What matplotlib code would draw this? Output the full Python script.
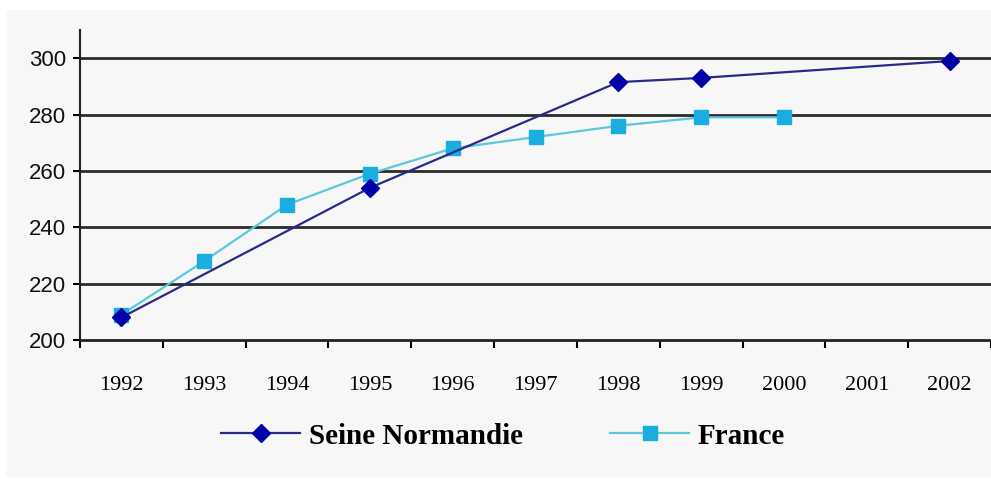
import numpy as np
import matplotlib.pyplot as plt
from matplotlib.patches import Rectangle

# Data
years = ['1992', '1993', '1994', '1995', '1996', '1997', '1998', '1999', '2000', '2001', '2002']
seine_years = ['1992', '1995', '1998', '1999', '2002']
seine_values = [208, 254, 291.5, 293, 299]
france_years = ['1992', '1993', '1994', '1995', '1996', '1997', '1998', '1999', '2000']
france_values = [209, 228, 248, 259, 268, 272, 276, 279, 279]
y_ticks = [200, 220, 240, 260, 280, 300]

bg = '#f7f7f7'

fig = plt.figure(figsize=(9.91, 4.79), dpi=100)
fig.patch.set_facecolor('white')
fig.patches.append(Rectangle((6 / 991, 2 / 479), 985 / 991, 467 / 479,
                             transform=fig.transFigure, facecolor=bg,
                             edgecolor='none', zorder=-10))

ax = fig.add_axes([80 / 991, 1 - 340 / 479, 911 / 991, 310 / 479])
ax.set_facecolor(bg)

pos = {y: i for i, y in enumerate(years)}
sx = [pos[y] for y in seine_years]
fx = [pos[y] for y in france_years]

# gridlines
for v in y_ticks[1:]:
    ax.axhline(v, color='#2b2b2b', linewidth=2, zorder=1)

ax.plot(fx, france_values, color='#5cc8dc', linewidth=1.6, marker='s',
        markersize=10, markerfacecolor='#1aaee0', markeredgecolor='#1aaee0',
        label='France', zorder=3)
ax.plot(sx, seine_values, color='#2a2a8c', linewidth=1.6, marker='D',
        markersize=9, markerfacecolor='#0000a8', markeredgecolor='#0000a8',
        label='Seine Normandie', zorder=4)

ax.set_xlim(-0.5, len(years) - 0.5)
ax.set_ylim(200, 310)

ax.set_yticks(y_ticks)
ax.set_yticklabels([str(v) for v in y_ticks], fontsize=16,
                   family='Liberation Sans', color='#111111')
ax.tick_params(axis='y', direction='out', length=5, width=1.5, pad=5)

ax.set_xticks(np.arange(len(years)))
ax.set_xticklabels(years, fontsize=16, family='Liberation Serif',
                   color='#000000')
ax.set_xticks(np.arange(len(years) + 1) - 0.5, minor=True)
ax.tick_params(axis='x', which='major', length=0, pad=26)
ax.tick_params(axis='x', which='minor', direction='out', length=6, width=1.5)

for s in ['top', 'right']:
    ax.spines[s].set_visible(False)
ax.spines['left'].set_linewidth(1.5)
ax.spines['bottom'].set_linewidth(2)
ax.spines['left'].set_color('#222222')
ax.spines['bottom'].set_color('#222222')

handles, labels = ax.get_legend_handles_labels()
leg = fig.legend(handles[::-1], labels[::-1], loc='center',
                 bbox_to_anchor=(503 / 991, 1 - 436 / 479), ncol=2,
                 frameon=False, handlelength=2.7, columnspacing=3.0,
                 handletextpad=0.3,
                 prop={'family': 'Liberation Serif', 'weight': 'bold', 'size': 21})

fig.savefig('out.png', dpi=100, facecolor='white')
